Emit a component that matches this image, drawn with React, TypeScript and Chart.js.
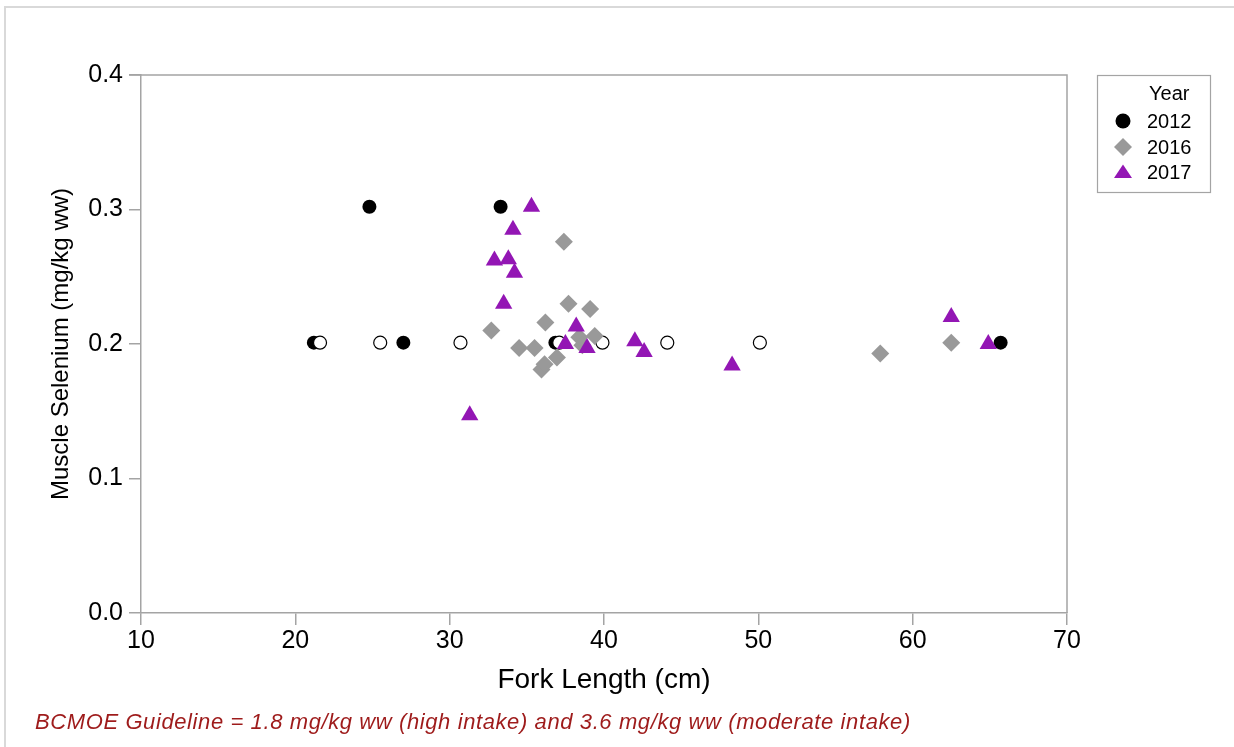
import React, { useEffect, useRef } from "react";
import { Chart, registerables } from "chart.js";

Chart.register(...registerables);

const FONT = "'Liberation Sans', Arial, Helvetica, sans-serif";

// Axis ticks
const xTickValues = [10, 20, 30, 40, 50, 60, 70];
const yTickValues = [0, 0.1, 0.2, 0.3, 0.4];

// Legend
const legendTitle = "Year";
const seriesNames = ["2012", "2016", "2017"];

// 2012 – detected values (filled circles)
const len2012 = [21.2, 24.8, 27.0, 33.3, 36.85, 65.7];
const se2012 = [0.201, 0.302, 0.201, 0.302, 0.201, 0.201];

// 2012 – non-detects (open circles, not in legend)
const len2012nd = [21.6, 25.5, 30.7, 37.1, 39.9, 44.1, 50.1];
const se2012nd = [0.201, 0.201, 0.201, 0.201, 0.201, 0.201, 0.201];

// 2016 (grey diamonds)
const len2016 = [32.7, 34.5, 35.5, 35.95, 36.15, 36.2, 36.95, 37.4, 37.7, 38.4, 38.6, 39.1, 39.4, 57.9, 62.5];
const se2016 = [0.21, 0.197, 0.197, 0.181, 0.185, 0.216, 0.19, 0.276, 0.23, 0.205, 0.199, 0.226, 0.206, 0.193, 0.201];

// 2017 (purple triangles)
const len2017 = [31.3, 32.9, 33.5, 33.8, 34.1, 34.2, 35.3, 37.5, 38.2, 38.9, 42.0, 42.6, 48.3, 62.5, 64.9];
const se2017 = [0.147, 0.262, 0.23, 0.263, 0.285, 0.253, 0.302, 0.2, 0.213, 0.197, 0.202, 0.194, 0.184, 0.22, 0.2];

const footnote =
  "BCMOE Guideline = 1.8 mg/kg ww (high intake) and 3.6 mg/kg ww (moderate intake)";

const BLACK = "#000000";
const GREY = "#999999";
const PURPLE = "#9316b4";
const AXIS = "#a4a4a4";

const pts = (xs: number[], ys: number[]) => xs.map((x, i) => ({ x, y: ys[i] }));

const frameAndLegend = {
  id: "frameAndLegend",
  beforeDatasetsDraw(chart: any) {
    const { ctx, chartArea } = chart;
    ctx.save();
    ctx.strokeStyle = AXIS;
    ctx.lineWidth = 1.5;
    ctx.beginPath();
    ctx.moveTo(chartArea.left - 12, chartArea.top);
    ctx.lineTo(chartArea.right, chartArea.top);
    ctx.lineTo(chartArea.right, chartArea.bottom);
    ctx.stroke();
    ctx.restore();
  },
  afterDraw(chart: any) {
    const { ctx } = chart;
    const bx = 1097.5;
    const by = 75.5;
    const bw = 113;
    const bh = 117;
    ctx.save();
    ctx.strokeStyle = AXIS;
    ctx.lineWidth = 1.2;
    ctx.strokeRect(bx, by, bw, bh);
    ctx.fillStyle = "#000";
    ctx.font = `20px ${FONT}`;
    ctx.textBaseline = "middle";
    ctx.textAlign = "left";
    ctx.fillText(legendTitle, 1149, 94);
    const ys = [121, 147, 172];
    const mx = 1123;
    seriesNames.forEach((name, i) => {
      const y = ys[i];
      ctx.beginPath();
      if (i === 0) {
        ctx.fillStyle = BLACK;
        ctx.arc(mx, y, 7.5, 0, Math.PI * 2);
      } else if (i === 1) {
        ctx.fillStyle = GREY;
        ctx.moveTo(mx - 9, y);
        ctx.lineTo(mx, y - 9);
        ctx.lineTo(mx + 9, y);
        ctx.lineTo(mx, y + 9);
        ctx.closePath();
      } else {
        ctx.fillStyle = PURPLE;
        ctx.moveTo(mx, y - 7.5);
        ctx.lineTo(mx + 9, y + 6);
        ctx.lineTo(mx - 9, y + 6);
        ctx.closePath();
      }
      ctx.fill();
      ctx.fillStyle = "#000";
      ctx.fillText(name, 1147, y + 1);
    });
    ctx.restore();
  },
};

export default function App() {
  const canvasRef = useRef<HTMLCanvasElement | null>(null);

  useEffect(() => {
    if (!canvasRef.current) return;
    const chart = new Chart(canvasRef.current, {
      type: "scatter",
      data: {
        datasets: [
          {
            label: seriesNames[0],
            data: pts(len2012, se2012),
            pointStyle: "circle",
            pointRadius: 7,
            pointHoverRadius: 7,
            backgroundColor: BLACK,
            borderColor: BLACK,
            borderWidth: 0,
            order: 4,
          },
          {
            label: seriesNames[1],
            data: pts(len2016, se2016),
            pointStyle: "rectRot",
            pointRadius: 9,
            pointHoverRadius: 9,
            backgroundColor: GREY,
            borderColor: GREY,
            borderWidth: 0,
            order: 2,
          },
          {
            label: seriesNames[2],
            data: pts(len2017, se2017),
            pointStyle: "triangle",
            pointRadius: 10,
            pointHoverRadius: 10,
            backgroundColor: PURPLE,
            borderColor: PURPLE,
            borderWidth: 0,
            order: 1,
          },
          {
            label: "2012 (non-detect)",
            data: pts(len2012nd, se2012nd),
            pointStyle: "circle",
            pointRadius: 6.5,
            pointHoverRadius: 6.5,
            backgroundColor: "#ffffff",
            borderColor: BLACK,
            borderWidth: 1.2,
            order: 3,
          },
        ],
      },
      options: {
        animation: false,
        responsive: true,
        maintainAspectRatio: false,
        layout: { padding: { left: 0, top: 75, right: 167, bottom: 47 } },
        plugins: {
          legend: { display: false },
          tooltip: { enabled: false },
        },
        scales: {
          x: {
            type: "linear",
            min: 10,
            max: 70,
            afterBuildTicks: (s: any) => {
              s.ticks = xTickValues.map((v) => ({ value: v }));
            },
            afterFit: (s: any) => {
              s.height = 87;
            },
            ticks: {
              color: "#000",
              font: { family: FONT, size: 25 },
              padding: 1,
              callback: (v: any) => String(v),
            },
            grid: {
              display: true,
              drawOnChartArea: false,
              drawTicks: true,
              tickLength: 12,
              color: AXIS,
              lineWidth: 1.5,
            },
            border: { display: true, color: AXIS, width: 1.5 },
            title: {
              display: true,
              text: "Fork Length (cm)",
              color: "#000",
              font: { family: FONT, size: 28 },
              padding: { top: 0, bottom: 3 },
            },
          },
          y: {
            type: "linear",
            min: 0,
            max: 0.4,
            afterBuildTicks: (s: any) => {
              s.ticks = yTickValues.map((v) => ({ value: v }));
            },
            afterFit: (s: any) => {
              s.width = 141;
            },
            ticks: {
              color: "#000",
              font: { family: FONT, size: 25 },
              padding: 6,
              callback: (v: any) => Number(v).toFixed(1),
            },
            grid: {
              display: true,
              drawOnChartArea: false,
              drawTicks: true,
              tickLength: 12,
              color: AXIS,
              lineWidth: 1.5,
            },
            border: { display: true, color: AXIS, width: 1.5 },
            title: {
              display: true,
              text: "Muscle Selenium (mg/kg ww)",
              color: "#000",
              font: { family: FONT, size: 24 },
              padding: { top: 47, bottom: 0 },
            },
          },
        },
      },
      plugins: [frameAndLegend],
    });
    return () => chart.destroy();
  }, []);

  return (
    <div
      style={{
        position: "fixed",
        left: 0,
        top: 0,
        width: 1234,
        height: 747,
        overflow: "hidden",
        background: "#ffffff",
      }}
    >
      <div
        style={{
          position: "absolute",
          left: 4,
          top: 6,
          width: 1240,
          height: 760,
          borderLeft: "2px solid #d9d9d9",
          borderTop: "2px solid #d9d9d9",
        }}
      />
      <div style={{ position: "absolute", left: 0, top: 0, width: 1234, height: 747 }}>
        <canvas ref={canvasRef} />
      </div>
      <div
        style={{
          position: "absolute",
          left: 35,
          top: 709,
          fontFamily: FONT,
          fontStyle: "italic",
          fontSize: 22,
          letterSpacing: "0.6px",
          lineHeight: "26px",
          color: "#9e1b1b",
          whiteSpace: "nowrap",
        }}
      >
        {footnote}
      </div>
    </div>
  );
}
